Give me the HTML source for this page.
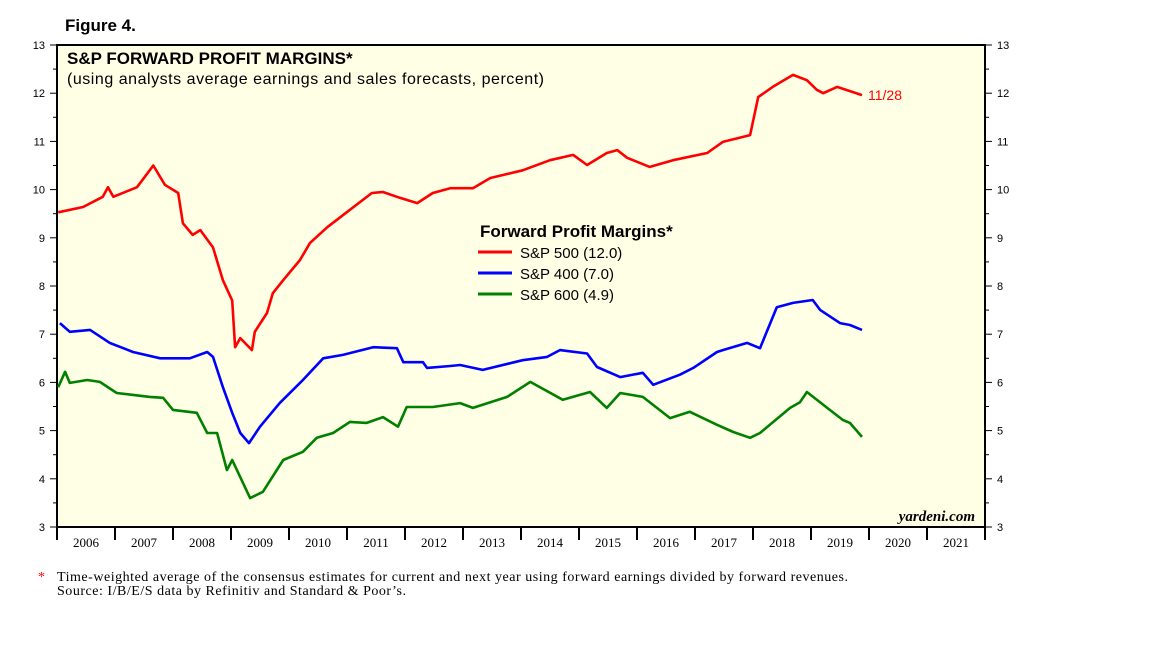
<!DOCTYPE html>
<html><head><meta charset="utf-8"><style>
body{margin:0;background:#fff;width:1152px;height:648px;overflow:hidden}
svg{font-family:"Liberation Sans",sans-serif}
</style></head><body>
<svg width="1152" height="648">
<text x="65" y="31" font-size="17" font-weight="bold">Figure 4.</text>
<rect x="57" y="45" width="928" height="482" fill="#FFFFE6" stroke="#000" stroke-width="2"/>
<g id="axes"></g>
<g id="series"></g>
<text x="67" y="64" font-size="17" font-weight="bold">S&amp;P FORWARD PROFIT MARGINS*</text>
<text x="67" y="84" font-size="16" textLength="477">(using analysts average earnings and sales forecasts, percent)</text>
<g>
<text x="480" y="237" font-size="17" font-weight="bold">Forward Profit Margins*</text>
<line x1="478" y1="252" x2="512" y2="252" stroke="#f00" stroke-width="3"/>
<text x="520" y="258" font-size="15">S&amp;P 500 (12.0)</text>
<line x1="478" y1="273" x2="512" y2="273" stroke="#00f" stroke-width="3"/>
<text x="520" y="279" font-size="15">S&amp;P 400 (7.0)</text>
<line x1="478" y1="294" x2="512" y2="294" stroke="#008000" stroke-width="3"/>
<text x="520" y="300" font-size="15">S&amp;P 600 (4.9)</text>
</g>
<text x="868" y="100" font-size="14" fill="#f00">11/28</text>
<text x="975" y="521" font-size="15" font-style="italic" font-weight="bold" text-anchor="end" font-family="Liberation Serif,serif">yardeni.com</text>
<text x="38" y="581" font-size="14" font-family="Liberation Serif,serif" fill="#f00">*</text>
<text x="57" y="581" font-size="14" textLength="791" font-family="Liberation Serif,serif">Time-weighted average of the consensus estimates for current and next year using forward earnings divided by forward revenues.</text>
<text x="57" y="595" font-size="14" textLength="349" font-family="Liberation Serif,serif">Source: I/B/E/S data by Refinitiv and Standard &amp; Poor’s.</text>
</svg>
<script>
const yTicks=[3,4,5,6,7,8,9,10,11,12,13];
const years=[2006,2007,2008,2009,2010,2011,2012,2013,2014,2015,2016,2017,2018,2019,2020,2021];
const sp500Dates=[2006.02,2006.45,2006.79,2006.88,2006.97,2007.38,2007.66,2007.86,2008.09,2008.17,2008.34,2008.47,2008.69,2008.86,2009.02,2009.07,2009.16,2009.36,2009.41,2009.62,2009.72,2009.90,2010.19,2010.36,2010.66,2011.05,2011.43,2011.62,2011.91,2012.21,2012.48,2012.78,2013.17,2013.47,2014.03,2014.50,2014.90,2015.14,2015.48,2015.66,2015.83,2016.22,2016.62,2017.21,2017.48,2017.95,2018.09,2018.34,2018.69,2018.93,2019.10,2019.21,2019.45,2019.88];
const sp500Values=[9.53,9.64,9.85,10.05,9.85,10.05,10.5,10.1,9.93,9.3,9.06,9.16,8.8,8.12,7.7,6.73,6.92,6.67,7.05,7.44,7.85,8.12,8.54,8.89,9.22,9.58,9.93,9.95,9.83,9.72,9.93,10.03,10.03,10.24,10.4,10.61,10.72,10.51,10.76,10.82,10.66,10.47,10.61,10.76,10.99,11.13,11.92,12.13,12.38,12.27,12.07,12.0,12.13,11.96];
const sp400Dates=[2006.05,2006.22,2006.57,2006.91,2007.31,2007.78,2008.29,2008.59,2008.69,2008.86,2009.02,2009.16,2009.31,2009.50,2009.84,2010.24,2010.59,2010.93,2011.45,2011.86,2011.97,2012.31,2012.38,2012.78,2012.95,2013.34,2014.03,2014.45,2014.67,2015.14,2015.31,2015.71,2016.10,2016.28,2016.74,2016.97,2017.38,2017.48,2017.90,2018.12,2018.41,2018.69,2019.03,2019.16,2019.50,2019.67,2019.88];
const sp400Values=[7.23,7.05,7.09,6.82,6.63,6.5,6.5,6.63,6.53,5.9,5.37,4.95,4.74,5.08,5.57,6.05,6.5,6.57,6.73,6.71,6.42,6.42,6.3,6.34,6.36,6.26,6.46,6.53,6.67,6.6,6.32,6.11,6.2,5.95,6.16,6.3,6.63,6.67,6.82,6.71,7.56,7.65,7.71,7.5,7.23,7.19,7.09,7.0];
const sp600Dates=[2006.02,2006.14,2006.22,2006.52,2006.74,2007.03,2007.60,2007.83,2008.00,2008.41,2008.59,2008.76,2008.93,2009.02,2009.33,2009.55,2009.90,2010.24,2010.48,2010.76,2011.05,2011.34,2011.62,2011.88,2012.03,2012.48,2012.95,2013.17,2013.76,2014.16,2014.72,2015.19,2015.48,2015.71,2016.10,2016.57,2016.91,2017.38,2017.66,2017.95,2018.12,2018.64,2018.81,2018.93,2019.28,2019.55,2019.67,2019.88];
const sp600Values=[5.9,6.22,5.99,6.05,6.01,5.78,5.7,5.68,5.43,5.37,4.95,4.95,4.18,4.39,3.6,3.73,4.39,4.56,4.85,4.95,5.18,5.16,5.28,5.08,5.49,5.49,5.57,5.47,5.7,6.01,5.64,5.8,5.47,5.78,5.7,5.26,5.39,5.12,4.97,4.85,4.95,5.47,5.59,5.8,5.47,5.22,5.16,4.87,4.85];

const X0=57,X1=985,Y0=527,Y1=45;
const xs=t=>X0+(t-2006)/16*(X1-X0);
const ys=v=>Y0-(v-3)/10*(Y0-Y1);
const NS="http://www.w3.org/2000/svg";
function mk(tag,attrs,parent){const e=document.createElementNS(NS,tag);for(const k in attrs)e.setAttribute(k,attrs[k]);parent.appendChild(e);return e;}
const axes=document.getElementById('axes');
yTicks.forEach((v,i)=>{
  const y=ys(v);
  const tl=mk('line',{x1:X0-7,x2:X0,y1:y,y2:y,stroke:'#000','stroke-width':1},axes);
  
  
  const tr=mk('line',{x1:X1,x2:X1+7,y1:y,y2:y,stroke:'#000','stroke-width':1},axes);
  
  
  const a=mk('text',{x:X0-12,y:y+4,'font-size':11,'text-anchor':'end'},axes);a.textContent=v;
  
  
  const b=mk('text',{x:X1+12,y:y+4,'font-size':11},axes);b.textContent=v;
  
  
  if(i<yTicks.length-1){const ym=ys(v+0.5);
    mk('line',{x1:X0-4,x2:X0,y1:ym,y2:ym,stroke:'#000'},axes);
    mk('line',{x1:X1,x2:X1+4,y1:ym,y2:ym,stroke:'#000'},axes);}
});
years.forEach((yr)=>{
  const x=xs(yr);
  const t=mk('line',{x1:x,x2:x,y1:Y0,y2:Y0+13,stroke:'#000','stroke-width':2},axes);
  
  
  const l=mk('text',{x:xs(yr+0.5),y:Y0+20,'font-size':13,'text-anchor':'middle','font-family':'Liberation Serif,serif'},axes);l.textContent=yr;
  
  
});
mk('line',{x1:X1,x2:X1,y1:Y0,y2:Y0+13,stroke:'#000','stroke-width':2},axes);
const sg=document.getElementById('series');
[[sp500Dates,sp500Values,'#f00','line-sp500'],[sp400Dates,sp400Values,'#00f','line-sp400'],[sp600Dates,sp600Values,'#008000','line-sp600']].forEach(s=>{
  const d=s[0].map((t,i)=>(i?'L':'M')+xs(t).toFixed(1)+','+ys(s[1][i]).toFixed(1)).join('');
  const p=mk('path',{d:d,fill:'none',stroke:s[2],'stroke-width':2.6,'stroke-linejoin':'round'},sg);
  
  
});
</script>
</body></html>
